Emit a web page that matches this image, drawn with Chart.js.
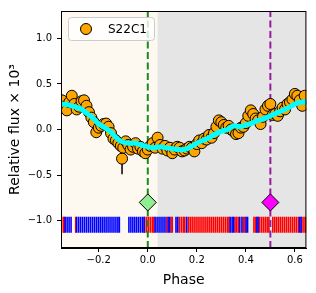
<!DOCTYPE html>
<html>
<head>
<meta charset="utf-8">
<script src="https://cdn.jsdelivr.net/npm/chart.js@4.4.1/dist/chart.umd.min.js"></script>
<style>
  html, body { margin: 0; padding: 0; background: #fff; }
  #wrap { width: 316px; height: 293px; }
</style>
</head>
<body>
<div id="wrap"><canvas id="c" width="316" height="293"></canvas></div>
<script>
// phase-folded photometry
const phases = [-0.35,-0.34,-0.33,-0.32,-0.31,-0.30,-0.29,-0.28,-0.27,-0.26,-0.25,-0.24,-0.23,-0.22,-0.21,-0.20,-0.19,-0.18,-0.17,-0.16,-0.15,-0.14,-0.13,-0.12,-0.11,-0.10,-0.09,-0.08,-0.07,-0.06,-0.05,-0.04,-0.03,-0.02,-0.01,0.00,0.01,0.02,0.03,0.04,0.05,0.06,0.07,0.08,0.09,0.10,0.11,0.12,0.13,0.14,0.15,0.16,0.17,0.18,0.19,0.20,0.21,0.22,0.23,0.24,0.25,0.26,0.27,0.28,0.29,0.30,0.31,0.32,0.33,0.34,0.35,0.36,0.37,0.38,0.39,0.40,0.41,0.42,0.43,0.44,0.45,0.46,0.47,0.48,0.49,0.50,0.51,0.52,0.53,0.54,0.55,0.56,0.57,0.58,0.59,0.60,0.61,0.62,0.63,0.64];
const flux = [0.32,0.25,0.21,0.30,0.37,0.28,0.22,0.25,0.31,0.32,0.26,0.19,0.13,0.08,-0.03,0.02,0.04,0.06,0.065,0.03,-0.04,-0.10,-0.12,-0.15,-0.18,-0.20,-0.13,-0.17,-0.22,-0.19,-0.15,-0.21,-0.19,-0.24,-0.26,-0.22,-0.18,-0.15,-0.20,-0.09,-0.17,-0.21,-0.18,-0.23,-0.20,-0.26,-0.22,-0.19,-0.20,-0.24,-0.23,-0.21,-0.19,-0.20,-0.24,-0.16,-0.12,-0.15,-0.10,-0.11,-0.06,-0.09,-0.04,0.03,0.10,0.08,0.05,0.02,0.04,0.00,-0.02,-0.05,-0.04,0.02,0.03,0.07,0.15,0.21,0.17,0.12,0.10,0.06,0.14,0.22,0.26,0.28,0.16,0.17,0.15,0.20,0.24,0.22,0.28,0.30,0.33,0.39,0.37,0.32,0.26,0.37];

// the one noisy point with a visible error bar
const outlierPhase = -0.105;
const outlierFlux = -0.32;
const outlierErr = 0.17;

// smoothed model curve
const modelPhase = [-0.35,-0.325,-0.30,-0.275,-0.25,-0.225,-0.20,-0.175,-0.15,-0.125,-0.10,-0.075,-0.05,-0.025,0.00,0.025,0.05,0.075,0.10,0.125,0.15,0.175,0.20,0.225,0.25,0.275,0.30,0.325,0.35,0.375,0.40,0.425,0.45,0.475,0.50,0.525,0.55,0.575,0.60,0.625,0.65];
const modelFlux = [0.28,0.27,0.25,0.23,0.18,0.13,0.06,0.02,-0.03,-0.10,-0.14,-0.15,-0.15,-0.17,-0.19,-0.20,-0.19,-0.20,-0.21,-0.22,-0.22,-0.19,-0.15,-0.12,-0.09,-0.05,-0.02,0.00,0.04,0.03,0.05,0.07,0.10,0.12,0.15,0.18,0.21,0.24,0.28,0.30,0.30];

// rug of observation phases
const rugBlue = [-0.337,-0.329,-0.321,-0.313,-0.290,-0.282,-0.274,-0.266,-0.258,-0.250,-0.242,-0.234,-0.226,-0.218,-0.210,-0.202,-0.194,-0.186,-0.178,-0.170,-0.162,-0.154,-0.146,-0.138,-0.130,-0.122,-0.116,-0.077,-0.069,-0.061,-0.053,-0.045,-0.037,-0.029,-0.021,-0.015,0.030,0.038,0.046,0.054,0.062,0.070,0.083,0.089,0.115,0.122,0.158,0.336,0.344,0.350,0.375,0.384,0.401,0.407,0.445,0.450,0.619,0.625];
const rugRed = [-0.345,-0.341,-0.294,-0.012,-0.004,0.004,0.012,0.020,0.025,0.077,0.095,0.100,0.129,0.137,0.145,0.150,0.165,0.173,0.181,0.189,0.197,0.205,0.213,0.221,0.229,0.237,0.245,0.253,0.261,0.269,0.277,0.285,0.293,0.301,0.309,0.317,0.325,0.331,0.356,0.363,0.370,0.390,0.396,0.433,0.440,0.455,0.463,0.471,0.479,0.487,0.494,0.510,0.518,0.526,0.534,0.542,0.550,0.558,0.566,0.574,0.582,0.590,0.598,0.606,0.614,0.629,0.637,0.644];
const rugLevel = -1.045;

// markers
const transitPhase = 0.0;
const eclipsePhase = 0.5;
const markerLevel = -0.8;
const shadeSplit = 0.04;

const xMin = -0.354, xMax = 0.647;
const yMin = -1.3, yMax = 1.3;
const xTicks = [-0.2, 0.0, 0.2, 0.4, 0.6];
const yTicks = [-1.0, -0.5, 0.0, 0.5, 1.0];
const seriesLabel = "S22C1";

const fmt = v => {
    const s = Math.abs(v).toFixed(1);
    return v < -1e-9 ? "\u2212" + s : s;
};

const FONT = "'DejaVu Sans', sans-serif";

const backdrop = {
    id: "backdrop",
    beforeDatasetsDraw(chart) {
        const { ctx, chartArea: a, scales: { x } } = chart;
        const s = x.getPixelForValue(shadeSplit);
        ctx.save();
        ctx.fillStyle = "#fdf9f0";
        ctx.fillRect(a.left, a.top, s - a.left, a.bottom - a.top);
        ctx.fillStyle = "#e5e5e5";
        ctx.fillRect(s, a.top, a.right - s, a.bottom - a.top);
        ctx.restore();
    },
    afterDraw(chart) {
        const { ctx, chartArea: a } = chart;
        ctx.save();
        ctx.strokeStyle = "#000";
        ctx.lineWidth = 1;
        ctx.strokeRect(a.left + 0.5, a.top + 0.5, a.right - a.left - 1, a.bottom - a.top - 1);

        // legend
        const bx = a.left + 7, by = a.top + 6, bw = 86, bh = 23;
        ctx.fillStyle = "rgba(255,255,255,0.8)";
        ctx.strokeStyle = "#cccccc";
        ctx.beginPath();
        ctx.roundRect(bx + 0.5, by + 0.5, bw, bh, 3);
        ctx.fill();
        ctx.stroke();
        ctx.beginPath();
        ctx.arc(bx + 18, by + 12, 5.5, 0, Math.PI * 2);
        ctx.fillStyle = "#ffa500";
        ctx.fill();
        ctx.strokeStyle = "#000";
        ctx.stroke();
        ctx.fillStyle = "#000";
        ctx.font = "12px " + FONT;
        ctx.textBaseline = "middle";
        ctx.fillText(seriesLabel, bx + 40, by + 12.5);
        ctx.restore();
    }
};

const vline = (p, color) => ({
    type: "line",
    data: [{ x: p, y: yMin }, { x: p, y: yMax }],
    borderColor: color,
    borderWidth: 2,
    borderDash: [7, 3.5],
    pointRadius: 0,
    order: 6
});

new Chart(document.getElementById("c"), {
    type: "scatter",
    data: {
        datasets: [
            {
                data: rugBlue.map(p => ({ x: p, y: rugLevel })),
                pointStyle: "line", rotation: 90, radius: 8,
                borderColor: "#0000ff", borderWidth: 1.6,
                order: 8
            },
            {
                data: rugRed.map(p => ({ x: p, y: rugLevel })),
                pointStyle: "line", rotation: 90, radius: 8,
                borderColor: "#ff0000", borderWidth: 1.6,
                order: 8
            },
            vline(transitPhase, "#1a8a1a"),
            vline(eclipsePhase, "#9a1aa0"),
            {
                type: "line",
                data: [{ x: outlierPhase, y: outlierFlux - outlierErr }, { x: outlierPhase, y: outlierFlux + outlierErr }],
                borderColor: "#000", borderWidth: 1.5, pointRadius: 0,
                order: 5
            },
            {
                data: phases.map((p, i) => ({ x: p, y: flux[i] })).concat([{ x: outlierPhase, y: outlierFlux }]),
                backgroundColor: "#ffa500", borderColor: "#000", borderWidth: 1,
                radius: 5.5,
                order: 4
            },
            {
                type: "line",
                data: modelPhase.map((p, i) => ({ x: p, y: modelFlux[i] })),
                borderColor: "#00ffff", borderWidth: 5, pointRadius: 0,
                tension: 0.3,
                order: 2
            },
            {
                data: [{ x: transitPhase, y: markerLevel }],
                pointStyle: "rectRot", radius: 8.5,
                backgroundColor: "#90ee90", borderColor: "#000", borderWidth: 1,
                order: 1
            },
            {
                data: [{ x: eclipsePhase, y: markerLevel }],
                pointStyle: "rectRot", radius: 8.5,
                backgroundColor: "#ff00ff", borderColor: "#000", borderWidth: 1,
                order: 1
            }
        ]
    },
    options: {
        responsive: false,
        animation: false,
        clip: { left: 0, top: 0, right: 0, bottom: 0 },
        layout: { padding: { top: 8, right: 8, left: 0, bottom: 0 } },
        plugins: { legend: { display: false }, tooltip: { enabled: false } },
        scales: {
            x: {
                type: "linear", min: xMin, max: xMax,
                afterBuildTicks: s => { s.ticks = xTicks.map(v => ({ value: v })); },
                afterFit: s => { s.height = 45; },
                ticks: { color: "#000", font: { family: FONT, size: 10 }, padding: 2, callback: v => fmt(v), maxRotation: 0 },
                grid: { drawOnChartArea: false, tickLength: 4, tickColor: "#000" },
                border: { color: "#000" },
                title: { display: true, text: "Phase", color: "#000", font: { family: FONT, size: 14 }, padding: { top: 2 } }
            },
            y: {
                type: "linear", min: yMin, max: yMax,
                afterBuildTicks: s => { s.ticks = yTicks.map(v => ({ value: v })); },
                afterFit: s => { s.width = 61; },
                ticks: { color: "#000", font: { family: FONT, size: 10 }, padding: 5, callback: v => fmt(v) },
                grid: { drawOnChartArea: false, tickLength: 4, tickColor: "#000" },
                border: { color: "#000" },
                title: { display: true, text: "Relative flux \u00d7 10\u00b3", color: "#000", font: { family: FONT, size: 14 }, padding: { top: 7, bottom: 2 } }
            }
        }
    },
    plugins: [backdrop]
});
</script>
</body>
</html>
